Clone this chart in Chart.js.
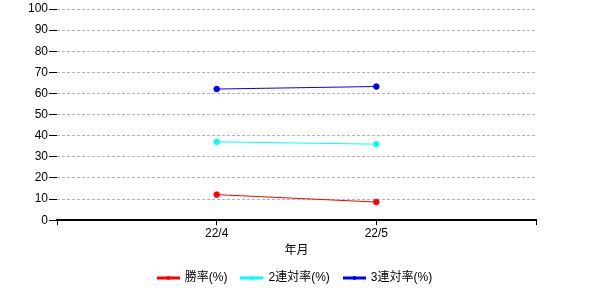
<!DOCTYPE html>
<html>
<head>
<meta charset="utf-8">
<script src="https://cdn.jsdelivr.net/npm/chart.js@4/dist/chart.umd.min.js"></script>
<style>
  html, body { margin: 0; padding: 0; background: #fff; }
  #wrap { width: 600px; height: 300px; }
</style>
</head>
<body>
<div id="wrap"><canvas id="myChart"></canvas></div>
<script>
// categories (blank slots at both ends so the two months sit at 1/3 and 2/3)
const months = ['', '22/4', '22/5', ''];
const winRate = [null, 12.1, 8.6, null];
const top2Rate = [null, 37.1, 36.0, null];
const top3Rate = [null, 62.1, 63.3, null];
const seriesNames = ['勝率(%)', '2連対率(%)', '3連対率(%)'];
const seriesColors = ['#ff0000', '#00ffff', '#0000ff'];

const font = { family: '"Liberation Sans", "Noto Sans CJK JP", sans-serif', size: 12 };

//legend marker: short line with a dot in the middle
function marker(color) {
  const c = document.createElement('canvas');
  c.width = 23; c.height = 8;
  const g = c.getContext('2d');
  g.strokeStyle = color; g.lineWidth = 3;
  g.beginPath(); g.moveTo(0, 4); g.lineTo(23, 4); g.stroke();
  g.fillStyle = color;
  g.beginPath(); g.arc(11.5, 4, 2, 0, Math.PI * 2); g.fill();
  return c;
}

//the original centres its legend on the whole picture, not on the padded area
const legendShift = {
  id: 'legendShift',
  afterLayout(chart) {
    chart.legend.left += 13.5;
    chart.legend.right += 13.5;
  }
};

const ds = [winRate, top2Rate, top3Rate].map((vals, i) => ({
  label: seriesNames[i],
  data: vals,
  borderColor: seriesColors[i],
  backgroundColor: seriesColors[i],
  borderWidth: 1,
  pointRadius: 2.8,
  pointHoverRadius: 3,
  tension: 0
}));

new Chart(document.getElementById('myChart'), {
  type: 'line',
  data: { labels: months, datasets: ds },
  plugins: [legendShift],
  options: {
    responsive: true,
    maintainAspectRatio: false,
    animation: false,
    layout: { padding: { left: 27, right: 64, top: 9, bottom: 6 } },
    plugins: {
      tooltip: { enabled: false },
      legend: {
        position: 'bottom',
        labels: {
          font: font,
          color: '#000',
          usePointStyle: true,
          pointStyleWidth: 21,
          boxHeight: 8,
          padding: 14,
          generateLabels: (chart) => chart.data.datasets.map((d, i) => ({
            text: d.label,
            fillStyle: d.borderColor,
            strokeStyle: d.borderColor,
            fontColor: '#000',
            pointStyle: marker(d.borderColor),
            datasetIndex: i,
            hidden: false
          }))
        }
      }
    },
    scales: {
      x: {
        offset: false,
        grid: { display: true, drawOnChartArea: false, drawTicks: true, tickLength: 5, color: '#000', tickColor: '#000' },
        border: { display: true, color: '#000', width: 2 },
        ticks: { font: font, color: '#000', padding: 1, autoSkip: false, maxRotation: 0 },
        title: { display: true, text: '年月', font: font, color: '#000', padding: { top: 2, bottom: 0 } }
      },
      y: {
        min: 0,
        max: 100,
        grid: { color: '#b4b4b4', tickColor: '#000', tickLength: 8, tickBorderDash: [], lineWidth: 1 },
        border: { display: false, dash: [3, 2] },
        ticks: { stepSize: 10, font: font, color: '#000', padding: 1 }
      }
    }
  }
});
</script>
</body>
</html>
